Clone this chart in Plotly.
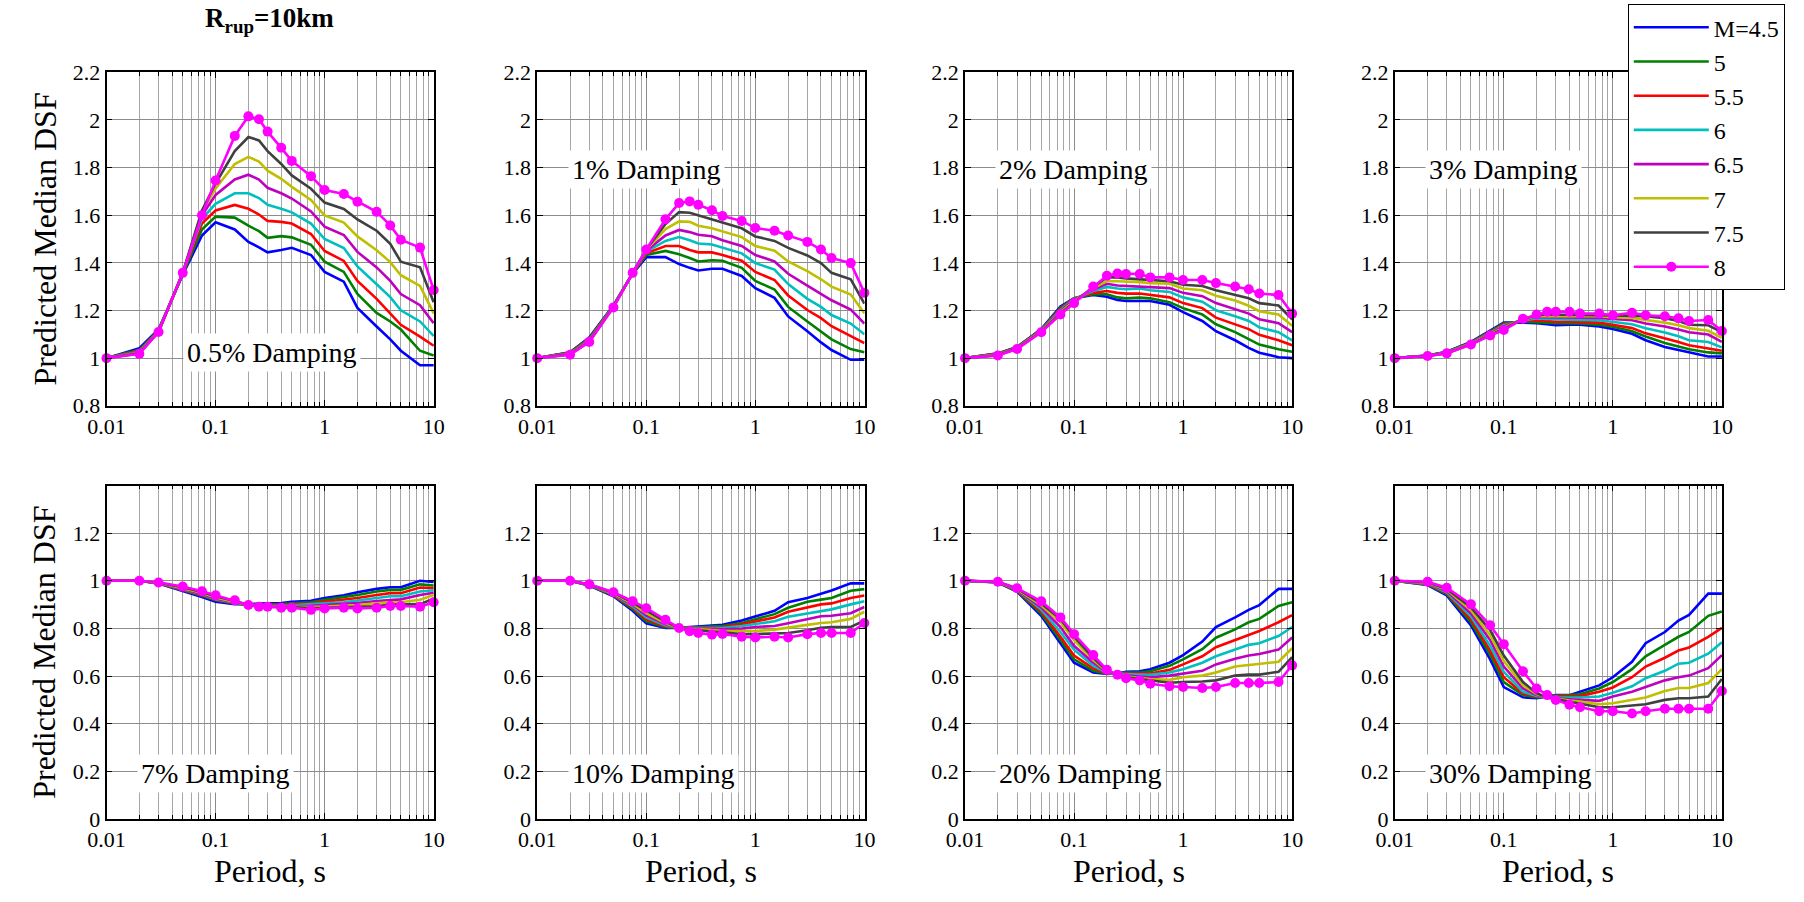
import math
import plotly.graph_objects as go

PERIODS = [0.01, 0.02, 0.03, 0.05, 0.075, 0.1, 0.15, 0.2, 0.25, 0.3, 0.4, 0.5,
           0.75, 1, 1.5, 2, 3, 4, 5, 7.5, 10]
MAG_LABELS = ["M=4.5", "5", "5.5", "6", "6.5", "7", "7.5", "8"]
DAMPING_LABELS = ["0.5% Damping", "1% Damping", "2% Damping", "3% Damping",
                  "7% Damping", "10% Damping", "20% Damping", "30% Damping"]

# rows = magnitudes 4.5 ... 8
DSF_05 = [
    [1.0, 1.042, 1.12, 1.35, 1.515, 1.57, 1.54, 1.488, 1.465, 1.444, 1.454, 1.463, 1.433, 1.362, 1.321, 1.211, 1.133, 1.079, 1.031, 0.970, 0.970],
    [1.0, 1.035, 1.117, 1.355, 1.54, 1.594, 1.59, 1.556, 1.533, 1.505, 1.512, 1.507, 1.476, 1.405, 1.362, 1.269, 1.19, 1.154, 1.12, 1.031, 1.011],
    [1.0, 1.03, 1.115, 1.355, 1.565, 1.62, 1.643, 1.627, 1.603, 1.576, 1.572, 1.565, 1.521, 1.45, 1.408, 1.324, 1.249, 1.188, 1.14, 1.09, 1.052],
    [1.0, 1.027, 1.113, 1.357, 1.585, 1.648, 1.692, 1.692, 1.672, 1.644, 1.627, 1.612, 1.565, 1.50, 1.462, 1.385, 1.31, 1.256, 1.201, 1.154, 1.093],
    [1.0, 1.025, 1.112, 1.357, 1.60, 1.685, 1.75, 1.77, 1.75, 1.715, 1.692, 1.67, 1.616, 1.552, 1.517, 1.446, 1.381, 1.324, 1.269, 1.222, 1.147],
    [1.0, 1.022, 1.111, 1.358, 1.615, 1.712, 1.815, 1.845, 1.825, 1.787, 1.753, 1.719, 1.664, 1.599, 1.569, 1.511, 1.453, 1.403, 1.348, 1.303, 1.188],
    [1.0, 1.02, 1.11, 1.358, 1.62, 1.733, 1.869, 1.928, 1.914, 1.869, 1.815, 1.767, 1.711, 1.653, 1.626, 1.582, 1.535, 1.48, 1.405, 1.381, 1.235],
    [1.0, 1.018, 1.11, 1.358, 1.60, 1.746, 1.933, 2.015, 2.003, 1.951, 1.883, 1.828, 1.764, 1.706, 1.689, 1.657, 1.614, 1.557, 1.497, 1.464, 1.286],
]
DSF_1 = [
    [1.0, 1.025, 1.086, 1.222, 1.355, 1.424, 1.424, 1.395, 1.379, 1.368, 1.375, 1.375, 1.345, 1.294, 1.253, 1.175, 1.113, 1.066, 1.034, 0.993, 0.993],
    [1.0, 1.024, 1.083, 1.22, 1.356, 1.433, 1.45, 1.436, 1.42, 1.406, 1.411, 1.409, 1.379, 1.324, 1.288, 1.215, 1.154, 1.113, 1.079, 1.038, 1.025],
    [1.0, 1.022, 1.08, 1.219, 1.356, 1.44, 1.471, 1.471, 1.454, 1.444, 1.444, 1.433, 1.409, 1.362, 1.328, 1.263, 1.202, 1.168, 1.134, 1.093, 1.063],
    [1.0, 1.02, 1.077, 1.218, 1.357, 1.447, 1.492, 1.508, 1.495, 1.481, 1.477, 1.463, 1.44, 1.399, 1.372, 1.311, 1.249, 1.215, 1.181, 1.145, 1.10],
    [1.0, 1.019, 1.075, 1.217, 1.357, 1.451, 1.515, 1.538, 1.529, 1.518, 1.512, 1.495, 1.471, 1.433, 1.406, 1.354, 1.304, 1.27, 1.243, 1.204, 1.145],
    [1.0, 1.017, 1.072, 1.216, 1.358, 1.454, 1.542, 1.574, 1.572, 1.556, 1.545, 1.531, 1.508, 1.471, 1.451, 1.406, 1.365, 1.331, 1.30, 1.267, 1.188],
    [1.0, 1.016, 1.07, 1.215, 1.358, 1.456, 1.563, 1.613, 1.61, 1.599, 1.583, 1.567, 1.545, 1.511, 1.492, 1.463, 1.431, 1.399, 1.358, 1.331, 1.229],
    [1.0, 1.014, 1.068, 1.213, 1.358, 1.456, 1.583, 1.651, 1.658, 1.644, 1.621, 1.597, 1.576, 1.546, 1.535, 1.515, 1.488, 1.456, 1.42, 1.399, 1.274],
]
DSF_2 = [
    [1.0, 1.02, 1.047, 1.122, 1.217, 1.251, 1.265, 1.258, 1.244, 1.24, 1.24, 1.24, 1.224, 1.193, 1.156, 1.113, 1.075, 1.043, 1.023, 1.004, 1.0],
    [1.0, 1.019, 1.046, 1.12, 1.212, 1.251, 1.268, 1.268, 1.255, 1.251, 1.254, 1.251, 1.235, 1.21, 1.183, 1.142, 1.109, 1.081, 1.057, 1.037, 1.027],
    [1.0, 1.018, 1.045, 1.119, 1.207, 1.25, 1.274, 1.282, 1.274, 1.271, 1.271, 1.265, 1.255, 1.231, 1.21, 1.17, 1.142, 1.122, 1.098, 1.075, 1.054],
    [1.0, 1.016, 1.043, 1.117, 1.202, 1.248, 1.282, 1.299, 1.292, 1.289, 1.292, 1.285, 1.278, 1.255, 1.237, 1.201, 1.176, 1.156, 1.129, 1.109, 1.075],
    [1.0, 1.015, 1.042, 1.115, 1.197, 1.245, 1.288, 1.312, 1.305, 1.303, 1.303, 1.299, 1.294, 1.274, 1.26, 1.231, 1.206, 1.187, 1.163, 1.147, 1.109],
    [1.0, 1.014, 1.041, 1.113, 1.192, 1.24, 1.293, 1.323, 1.323, 1.322, 1.319, 1.315, 1.312, 1.292, 1.285, 1.262, 1.242, 1.22, 1.197, 1.183, 1.136],
    [1.0, 1.012, 1.04, 1.111, 1.187, 1.235, 1.299, 1.339, 1.339, 1.335, 1.332, 1.328, 1.323, 1.308, 1.303, 1.285, 1.265, 1.251, 1.231, 1.221, 1.163],
    [1.0, 1.011, 1.038, 1.109, 1.183, 1.231, 1.301, 1.346, 1.355, 1.353, 1.353, 1.339, 1.339, 1.328, 1.328, 1.315, 1.301, 1.289, 1.271, 1.265, 1.187],
]
DSF_3 = [
    [1.0, 1.011, 1.027, 1.068, 1.115, 1.149, 1.149, 1.147, 1.142, 1.138, 1.14, 1.14, 1.133, 1.122, 1.102, 1.075, 1.047, 1.034, 1.023, 1.007, 1.007],
    [1.0, 1.011, 1.026, 1.066, 1.112, 1.146, 1.153, 1.152, 1.149, 1.147, 1.147, 1.146, 1.14, 1.132, 1.113, 1.091, 1.064, 1.047, 1.037, 1.024, 1.02],
    [1.0, 1.01, 1.025, 1.065, 1.109, 1.142, 1.156, 1.159, 1.156, 1.153, 1.153, 1.152, 1.149, 1.14, 1.126, 1.104, 1.084, 1.068, 1.054, 1.041, 1.031],
    [1.0, 1.01, 1.024, 1.063, 1.106, 1.138, 1.159, 1.167, 1.165, 1.163, 1.163, 1.16, 1.159, 1.152, 1.142, 1.125, 1.108, 1.092, 1.075, 1.068, 1.045],
    [1.0, 1.01, 1.023, 1.061, 1.103, 1.133, 1.162, 1.173, 1.172, 1.172, 1.172, 1.17, 1.169, 1.165, 1.159, 1.145, 1.133, 1.12, 1.109, 1.099, 1.068],
    [1.0, 1.009, 1.022, 1.06, 1.1, 1.128, 1.163, 1.176, 1.176, 1.176, 1.176, 1.176, 1.176, 1.172, 1.169, 1.16, 1.149, 1.138, 1.126, 1.115, 1.085],
    [1.0, 1.009, 1.021, 1.058, 1.097, 1.123, 1.164, 1.18, 1.183, 1.183, 1.183, 1.183, 1.18, 1.179, 1.179, 1.176, 1.168, 1.156, 1.14, 1.138, 1.109],
    [1.0, 1.009, 1.02, 1.057, 1.095, 1.118, 1.165, 1.183, 1.195, 1.195, 1.195, 1.187, 1.187, 1.18, 1.19, 1.18, 1.176, 1.167, 1.156, 1.16, 1.114],
]
DSF_7 = [
    [1.0, 1.0, 0.989, 0.959, 0.932, 0.912, 0.902, 0.902, 0.902, 0.905, 0.907, 0.912, 0.916, 0.928, 0.939, 0.952, 0.966, 0.973, 0.973, 1.0, 0.995],
    [1.0, 1.0, 0.99, 0.962, 0.937, 0.918, 0.905, 0.9, 0.9, 0.9, 0.902, 0.905, 0.91, 0.92, 0.93, 0.94, 0.955, 0.962, 0.962, 0.985, 0.98],
    [1.0, 1.0, 0.99, 0.963, 0.94, 0.92, 0.906, 0.9, 0.899, 0.898, 0.899, 0.9, 0.905, 0.912, 0.92, 0.928, 0.94, 0.948, 0.948, 0.972, 0.97],
    [1.0, 1.0, 0.991, 0.965, 0.943, 0.923, 0.908, 0.899, 0.897, 0.896, 0.896, 0.897, 0.9, 0.905, 0.91, 0.918, 0.928, 0.935, 0.935, 0.955, 0.96],
    [1.0, 1.0, 0.991, 0.967, 0.946, 0.926, 0.91, 0.899, 0.896, 0.895, 0.894, 0.894, 0.895, 0.898, 0.902, 0.907, 0.915, 0.92, 0.922, 0.94, 0.95],
    [1.0, 1.0, 0.992, 0.97, 0.95, 0.93, 0.913, 0.899, 0.894, 0.893, 0.892, 0.892, 0.89, 0.892, 0.895, 0.898, 0.905, 0.91, 0.91, 0.92, 0.94],
    [1.0, 1.0, 0.992, 0.973, 0.953, 0.935, 0.915, 0.898, 0.892, 0.892, 0.891, 0.89, 0.885, 0.887, 0.888, 0.89, 0.893, 0.9, 0.9, 0.902, 0.925],
    [1.0, 1.0, 0.993, 0.976, 0.956, 0.939, 0.918, 0.898, 0.891, 0.891, 0.887, 0.887, 0.878, 0.884, 0.887, 0.884, 0.887, 0.894, 0.894, 0.891, 0.91],
]
DSF_10 = [
    [1.0, 1.0, 0.98, 0.935, 0.874, 0.822, 0.802, 0.802, 0.806, 0.808, 0.81, 0.815, 0.833, 0.849, 0.874, 0.91, 0.928, 0.946, 0.959, 0.989, 0.989],
    [1.0, 1.0, 0.981, 0.938, 0.881, 0.83, 0.805, 0.802, 0.804, 0.806, 0.807, 0.81, 0.823, 0.838, 0.86, 0.887, 0.912, 0.921, 0.928, 0.958, 0.965],
    [1.0, 1.0, 0.982, 0.94, 0.887, 0.838, 0.808, 0.802, 0.803, 0.803, 0.803, 0.805, 0.817, 0.83, 0.846, 0.87, 0.887, 0.901, 0.905, 0.928, 0.938],
    [1.0, 1.0, 0.982, 0.943, 0.892, 0.846, 0.812, 0.802, 0.802, 0.802, 0.801, 0.802, 0.81, 0.819, 0.83, 0.849, 0.864, 0.874, 0.88, 0.901, 0.914],
    [1.0, 1.0, 0.983, 0.945, 0.898, 0.855, 0.817, 0.802, 0.8, 0.8, 0.798, 0.796, 0.799, 0.806, 0.81, 0.822, 0.84, 0.851, 0.853, 0.864, 0.89],
    [1.0, 1.0, 0.984, 0.947, 0.903, 0.864, 0.822, 0.802, 0.798, 0.797, 0.793, 0.789, 0.788, 0.789, 0.795, 0.802, 0.815, 0.823, 0.826, 0.84, 0.87],
    [1.0, 1.0, 0.984, 0.95, 0.908, 0.874, 0.829, 0.802, 0.795, 0.792, 0.787, 0.783, 0.776, 0.776, 0.779, 0.781, 0.792, 0.803, 0.806, 0.806, 0.833],
    [1.0, 1.0, 0.985, 0.952, 0.914, 0.885, 0.836, 0.802, 0.788, 0.781, 0.774, 0.777, 0.765, 0.762, 0.765, 0.762, 0.776, 0.781, 0.781, 0.781, 0.823],
]
DSF_20 = [
    [1.0, 0.993, 0.955, 0.853, 0.738, 0.656, 0.615, 0.609, 0.611, 0.618, 0.62, 0.629, 0.656, 0.688, 0.745, 0.806, 0.846, 0.878, 0.898, 0.966, 0.966],
    [1.0, 0.994, 0.957, 0.862, 0.751, 0.67, 0.622, 0.61, 0.612, 0.615, 0.615, 0.62, 0.643, 0.67, 0.713, 0.761, 0.796, 0.826, 0.84, 0.894, 0.91],
    [1.0, 0.994, 0.959, 0.871, 0.765, 0.686, 0.632, 0.612, 0.611, 0.612, 0.612, 0.611, 0.626, 0.649, 0.683, 0.721, 0.751, 0.774, 0.789, 0.826, 0.856],
    [1.0, 0.995, 0.961, 0.879, 0.785, 0.711, 0.643, 0.614, 0.609, 0.607, 0.606, 0.605, 0.615, 0.629, 0.656, 0.683, 0.711, 0.731, 0.738, 0.768, 0.806],
    [1.0, 0.995, 0.963, 0.888, 0.806, 0.727, 0.656, 0.617, 0.608, 0.602, 0.598, 0.595, 0.602, 0.609, 0.622, 0.649, 0.673, 0.686, 0.693, 0.711, 0.762],
    [1.0, 0.995, 0.965, 0.897, 0.826, 0.751, 0.667, 0.62, 0.606, 0.598, 0.592, 0.588, 0.584, 0.595, 0.602, 0.615, 0.64, 0.647, 0.652, 0.66, 0.717],
    [1.0, 0.996, 0.967, 0.905, 0.84, 0.765, 0.677, 0.623, 0.605, 0.595, 0.588, 0.582, 0.572, 0.575, 0.577, 0.582, 0.602, 0.606, 0.606, 0.618, 0.679],
    [1.0, 0.996, 0.969, 0.914, 0.846, 0.776, 0.688, 0.626, 0.606, 0.591, 0.582, 0.568, 0.557, 0.554, 0.55, 0.554, 0.571, 0.571, 0.571, 0.575, 0.645],
]
DSF_30 = [
    [1.0, 0.982, 0.939, 0.813, 0.67, 0.554, 0.511, 0.507, 0.514, 0.52, 0.52, 0.534, 0.561, 0.595, 0.66, 0.738, 0.785, 0.833, 0.857, 0.946, 0.946],
    [1.0, 0.984, 0.944, 0.826, 0.69, 0.575, 0.52, 0.51, 0.514, 0.518, 0.52, 0.524, 0.548, 0.575, 0.629, 0.683, 0.731, 0.765, 0.785, 0.853, 0.871],
    [1.0, 0.986, 0.948, 0.838, 0.707, 0.595, 0.527, 0.513, 0.513, 0.514, 0.515, 0.516, 0.534, 0.552, 0.595, 0.64, 0.677, 0.707, 0.72, 0.765, 0.802],
    [1.0, 0.988, 0.952, 0.851, 0.727, 0.618, 0.534, 0.516, 0.512, 0.51, 0.51, 0.51, 0.514, 0.53, 0.557, 0.591, 0.622, 0.652, 0.656, 0.694, 0.742],
    [1.0, 0.99, 0.957, 0.863, 0.751, 0.64, 0.548, 0.52, 0.512, 0.507, 0.503, 0.5, 0.496, 0.514, 0.534, 0.554, 0.582, 0.595, 0.602, 0.633, 0.688],
    [1.0, 0.992, 0.962, 0.876, 0.772, 0.663, 0.561, 0.524, 0.511, 0.505, 0.497, 0.493, 0.482, 0.486, 0.5, 0.51, 0.537, 0.55, 0.55, 0.571, 0.629],
    [1.0, 0.994, 0.966, 0.888, 0.793, 0.686, 0.575, 0.528, 0.51, 0.503, 0.492, 0.486, 0.469, 0.469, 0.476, 0.482, 0.5, 0.507, 0.507, 0.514, 0.588],
    [1.0, 0.996, 0.971, 0.901, 0.813, 0.734, 0.62, 0.548, 0.52, 0.5, 0.48, 0.469, 0.452, 0.452, 0.443, 0.452, 0.463, 0.463, 0.463, 0.463, 0.537],
]
PANELS = [DSF_05, DSF_1, DSF_2, DSF_3, DSF_7, DSF_10, DSF_20, DSF_30]

X_TICKS = [0.01, 0.1, 1, 10]
X_TICKTEXT = ["0.01", "0.1", "1", "10"]
Y_TICKS_TOP = [0.8, 1.0, 1.2, 1.4, 1.6, 1.8, 2.0, 2.2]
Y_TICKTEXT_TOP = ["0.8", "1", "1.2", "1.4", "1.6", "1.8", "2", "2.2"]
Y_TICKS_BOT = [0, 0.2, 0.4, 0.6, 0.8, 1.0, 1.2]
Y_TICKTEXT_BOT = ["0", "0.2", "0.4", "0.6", "0.8", "1", "1.2"]

# ---------------- styling ----------------
W, H = 1804, 902
COLORS = ["#0000FF", "#008000", "#FF0000", "#00BFBF", "#BF00BF", "#BFBF00", "#404040", "#FF00FF"]
FONT = "Liberation Serif, Times New Roman, serif"
MINOR = [m * 10 ** e for e in (-2, -1, 0) for m in range(2, 10)]
COL_LEFT = [89, 527, 962, 1399]
PANEL_W = 333
ROW_TOP = [62, 487]
PANEL_H = 343
LABEL_POS = [(0.05, 1.025), (0.019, 1.79), (0.019, 1.79), (0.019, 1.79),
             (0.019, 0.19), (0.019, 0.19), (0.019, 0.19), (0.019, 0.19)]
GRID_MAJOR = "#8c8c8c"
GRID_MINOR = "#a6a6a6"

fig = go.Figure()
annotations = []
for p, data in enumerate(PANELS):
    r, c = divmod(p, 4)
    idx = "" if p == 0 else str(p + 1)
    xa, ya = "x" + idx, "y" + idx
    for m, vals in enumerate(data):
        is_last = m == len(data) - 1
        fig.add_trace(go.Scatter(
            x=PERIODS, y=vals, xaxis=xa, yaxis=ya,
            mode="lines+markers" if is_last else "lines",
            name=MAG_LABELS[m], legendgroup=MAG_LABELS[m], showlegend=(p == 0),
            line=dict(color=COLORS[m], width=2.6),
            marker=dict(size=10, color=COLORS[m]),
            cliponaxis=False,
        ))
    x0 = COL_LEFT[c] / W
    x1 = (COL_LEFT[c] + PANEL_W) / W
    y1 = 1 - ROW_TOP[r] / H
    y0 = 1 - (ROW_TOP[r] + PANEL_H) / H
    common = dict(showline=True, linecolor="black", linewidth=1.5, mirror="allticks",
                  ticks="inside", ticklen=6, tickcolor="black", zeroline=False,
                  showgrid=True, gridcolor=GRID_MAJOR, gridwidth=1,
                  tickfont=dict(family=FONT, size=22, color="black"))
    fig.layout["xaxis" + idx] = dict(
        domain=[x0, x1], anchor=ya, type="log", range=[-2, 1.003],
        tickmode="array", tickvals=X_TICKS, ticktext=X_TICKTEXT,
        minor=dict(tickvals=MINOR, ticks="inside", ticklen=4, tickcolor="black",
                   showgrid=True, gridcolor=GRID_MINOR, gridwidth=1),
        **common)
    fig.layout["yaxis" + idx] = dict(
        domain=[y0, y1], anchor=xa,
        range=[0.8, 2.2] if r == 0 else [0, 1.4],
        tickmode="array",
        tickvals=Y_TICKS_TOP if r == 0 else Y_TICKS_BOT,
        ticktext=Y_TICKTEXT_TOP if r == 0 else Y_TICKTEXT_BOT,
        **common)
    lx, ly = LABEL_POS[p]
    annotations.append(dict(
        x=math.log10(lx), y=ly, xref=xa, yref=ya, xanchor="left", yanchor="middle",
        text=DAMPING_LABELS[p], showarrow=False, bgcolor="white", borderpad=3,
        font=dict(family=FONT, size=28, color="black")))
    if r == 1:
        annotations.append(dict(
            x=(COL_LEFT[c] + PANEL_W / 2) / W, y=1 - 884 / H, xref="paper", yref="paper",
            text="Period, s", showarrow=False, xanchor="center", yanchor="middle",
            font=dict(family=FONT, size=32, color="black")))

for r in range(2):
    annotations.append(dict(
        x=26 / W, y=1 - (ROW_TOP[r] + PANEL_H / 2) / H, xref="paper", yref="paper",
        text="Predicted Median DSF", textangle=-90, showarrow=False,
        xanchor="center", yanchor="middle",
        font=dict(family=FONT, size=32, color="black")))

annotations.append(dict(
    x=255 / W, y=1 - 8 / H, xref="paper", yref="paper",
    text="<b>R<sub>rup</sub>=10km</b>", showarrow=False,
    xanchor="center", yanchor="middle",
    font=dict(family=FONT, size=27, color="black")))

fig.update_layout(
    width=W, height=H, margin=dict(l=0, r=0, t=0, b=0),
    paper_bgcolor="white", plot_bgcolor="white",
    font=dict(family=FONT, color="black"),
    annotations=annotations,
    showlegend=True,
    legend=dict(x=1636 / W, y=1.0 + 8 / H, xanchor="left", yanchor="top",
                bgcolor="white", bordercolor="black", borderwidth=1,
                font=dict(family=FONT, size=24, color="black"),
                itemwidth=75, tracegroupgap=0),
)

fig.write_html("out.html")
